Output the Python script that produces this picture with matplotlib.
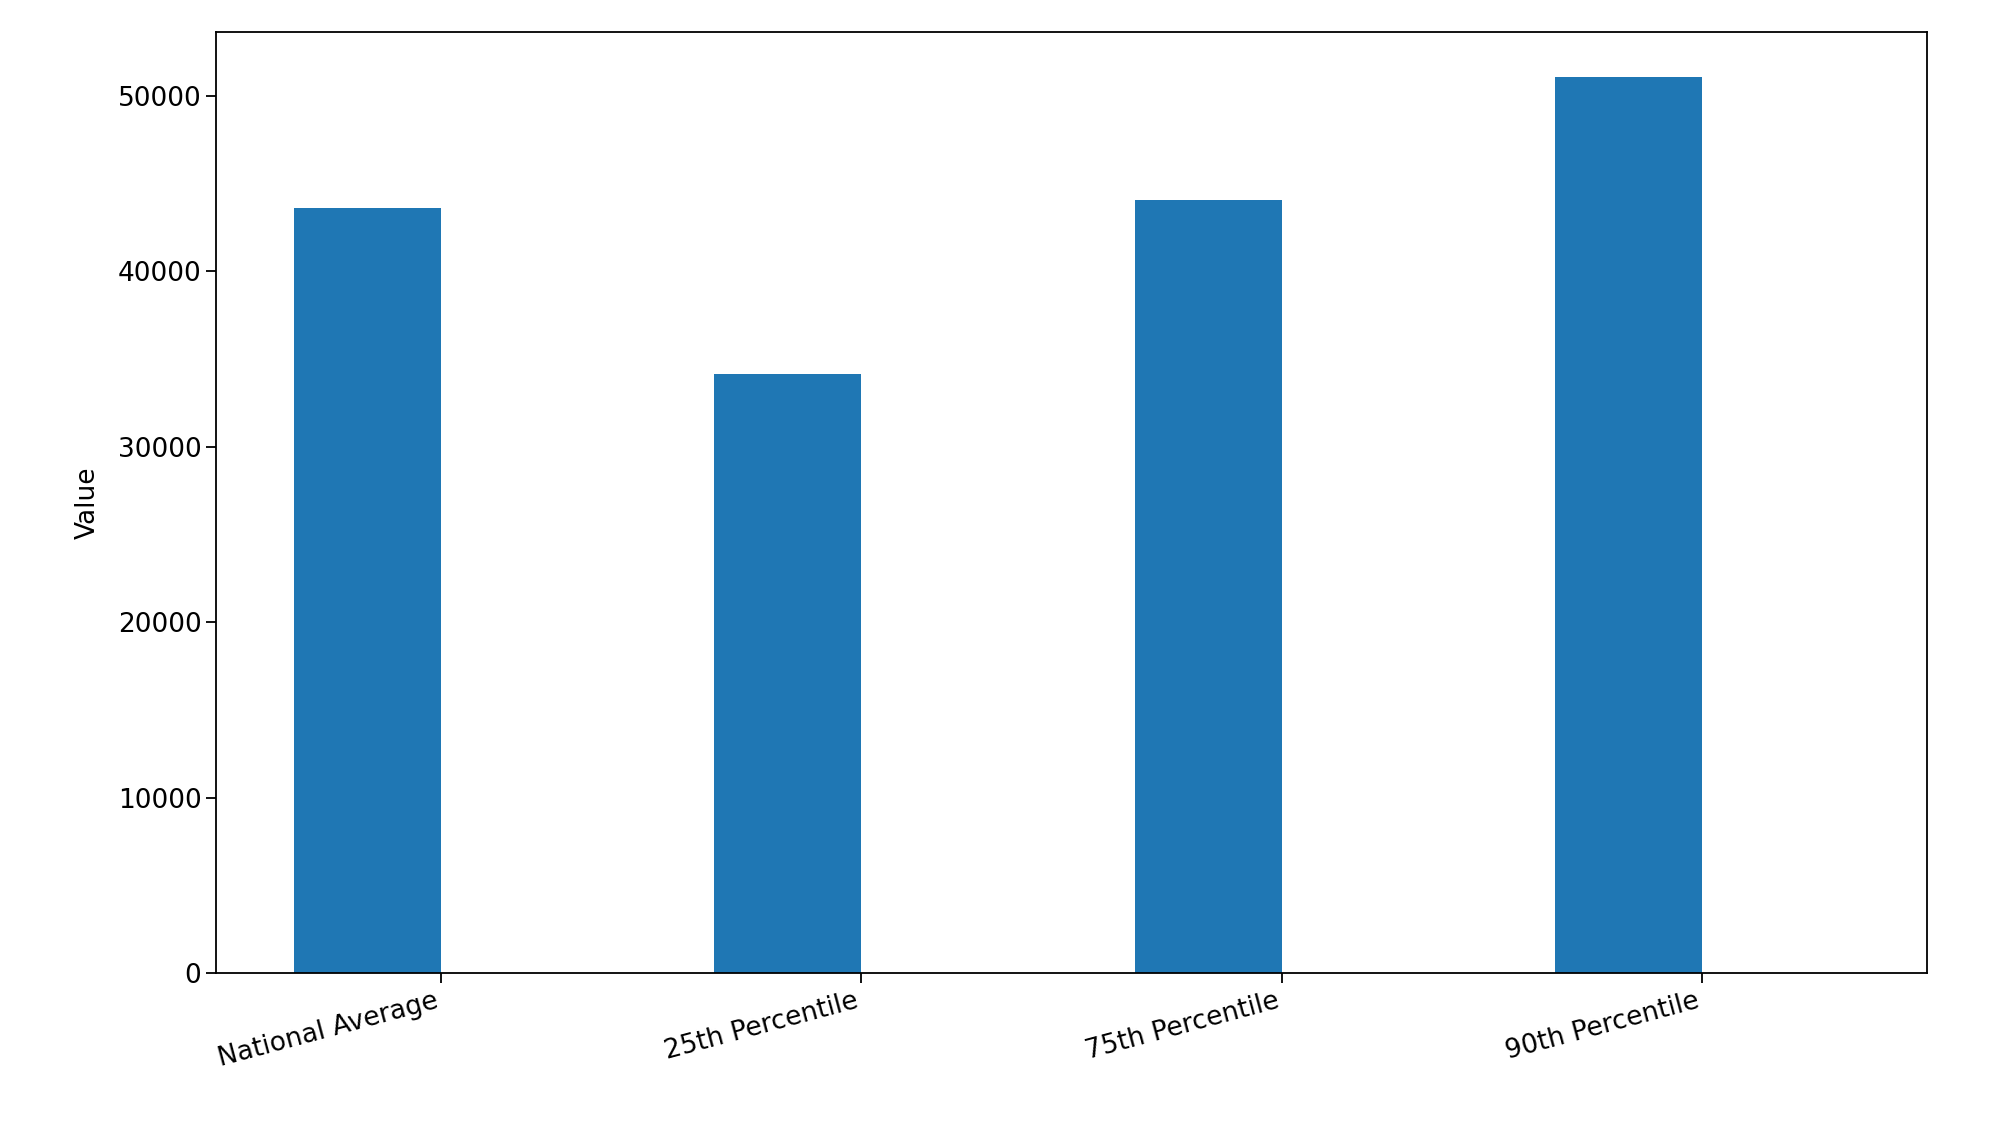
import matplotlib
matplotlib.use("Agg")
import matplotlib.pyplot as plt
import numpy as np

categories = ["National Average", "25th Percentile", "75th Percentile", "90th Percentile"]
values = [43600, 34150, 44100, 51100]

width = 0.35
x = np.arange(len(categories))

fig = plt.figure(figsize=(20, 11.25), dpi=100)
ax = fig.add_axes([0.108, 0.135, 0.8555, 0.8366])
ax.bar(x - width / 2, values, width, color="#1f77b4")
ax.set_xlim(-0.535, 3.535)
ax.set_ylim(0, max(values) * 1.05)
ax.set_xticks(x)
ax.set_xticklabels(categories, rotation=15, ha="right", fontsize=19)
ax.tick_params(axis="y", labelsize=19, length=7, width=1.3)
ax.tick_params(axis="x", length=7, width=1.3)
ax.set_ylabel("Value", fontsize=19, labelpad=12)
for s in ax.spines.values():
    s.set_linewidth(1.3)

fig.savefig("out.png", dpi=100)
